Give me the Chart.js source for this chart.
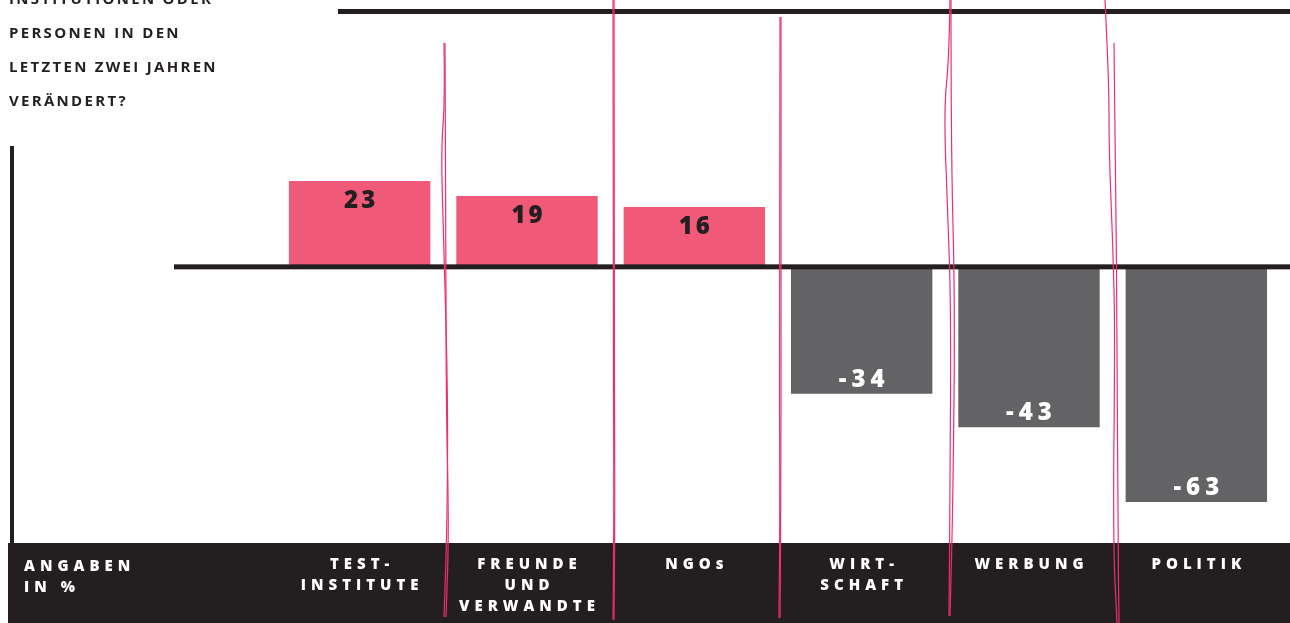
<!DOCTYPE html>
<html>
<head>
<meta charset="utf-8">
<script src="https://cdn.jsdelivr.net/npm/chart.js@4/dist/chart.umd.min.js"></script>
<style>
  html, body { margin: 0; padding: 0; background: #fff; }
  canvas { display: block; }
</style>
</head>
<body>
<canvas id="chart" width="1290" height="623"></canvas>
<script>
// Data
const categories = [
  ["TEST-", "INSTITUTE"],
  ["FREUNDE", "UND", "VERWANDTE"],
  ["NGOs"],
  ["WIRT-", "SCHAFT"],
  ["WERBUNG"],
  ["POLITIK"]
];
const values = [23, 19, 16, -34, -43, -63];
const titleLines = ["INSTITUTIONEN ODER", "PERSONEN IN DEN", "LETZTEN ZWEI JAHREN", "VERÄNDERT?"];
const unitLines = ["ANGABEN", "IN %"];

const dark = "#231f20";
const pink = "#f05a78";
const grey = "#636264";
const red = "#ee2f68";

// hand drawn red strokes (decoration)
const scribbles = [
  [[444,43],[445,100],[441,150],[444,250],[448,400],[447,530],[444,617]],
  [[445,43],[446,200],[446,400],[449,530],[446,617]],
  [[613,0],[613,300],[614,500],[613,620]],
  [[614,0],[614,300],[615,500],[614,620]],
  [[780,17],[779,300],[780,500],[779,618]],
  [[781,17],[781,300],[781,500],[780,618]],
  [[950,0],[949,60],[944,107],[947,200],[951,300],[950,500],[949,616]],
  [[951,0],[951,150],[955,300],[953,500],[950,616]],
  [[1105,0],[1109,80],[1109,150],[1113,250],[1115,330],[1113,540],[1117,623]],
  [[1114,43],[1116,200],[1117,330],[1118,540],[1119,623]]
];

function spacedText(ctx, text, x, y, spacing, align) {
  ctx.letterSpacing = spacing + "px";
  const w = ctx.measureText(text).width - spacing;
  let sx = x;
  if (align === "center") sx = x - w / 2;
  ctx.textAlign = "left";
  ctx.fillText(text, sx, y);
  ctx.letterSpacing = "0px";
}

const decor = {
  id: "decor",
  beforeDraw(chart) {
    const ctx = chart.ctx;
    ctx.save();
    ctx.fillStyle = dark;
    ctx.fillRect(8, 543, 1282, 80);
    ctx.restore();
  },
  afterDatasetsDraw(chart) {
    const ctx = chart.ctx;
    const y0 = chart.scales.y.getPixelForValue(0);
    ctx.save();
    ctx.fillStyle = dark;
    // top rule, left rule, zero line
    ctx.fillRect(338, 9, 952, 5);
    ctx.fillRect(10, 146, 4, 397);
    ctx.fillRect(174, y0 - 2.5, 1116, 5);

    // value labels
    const meta = chart.getDatasetMeta(0);
    ctx.textBaseline = "alphabetic";
    ctx.font = "800 24px 'Open Sans'";
    meta.data.forEach((bar, i) => {
      const v = values[i];
      if (v >= 0) {
        ctx.fillStyle = dark;
        spacedText(ctx, String(v), bar.x, bar.y + 27, 3, "center");
      } else {
        ctx.fillStyle = "#ffffff";
        spacedText(ctx, String(v), bar.x, bar.y - 7, 5, "center");
      }
    });

    // title text
    ctx.fillStyle = dark;
    ctx.font = "700 15px 'Open Sans'";
    titleLines.forEach((t, i) => spacedText(ctx, t, 9, 4 + i * 34, 2.3, "left"));

    // band labels
    ctx.fillStyle = "#ffffff";
    ctx.font = "800 15px 'Open Sans'";
    unitLines.forEach((t, i) => spacedText(ctx, t, 24, 571 + i * 21, 5, "left"));
    const xs = chart.scales.x;
    categories.forEach((lines, i) => {
      const cx = xs.getPixelForValue(i);
      lines.forEach((t, j) => spacedText(ctx, t, cx, 569 + j * 21, 5, "center"));
    });

    // red scribbles
    ctx.strokeStyle = red;
    ctx.lineWidth = 1.2;
    ctx.lineJoin = "round";
    scribbles.forEach(pts => {
      ctx.beginPath();
      ctx.moveTo(pts[0][0], pts[0][1]);
      for (let k = 1; k < pts.length - 1; k++) {
        const mx = (pts[k][0] + pts[k + 1][0]) / 2;
        const my = (pts[k][1] + pts[k + 1][1]) / 2;
        ctx.quadraticCurveTo(pts[k][0], pts[k][1], mx, my);
      }
      const last = pts[pts.length - 1];
      ctx.lineTo(last[0], last[1]);
      ctx.stroke();
    });
    ctx.restore();
  }
};

new Chart(document.getElementById("chart").getContext("2d"), {
  type: "bar",
  data: {
    labels: categories.map(c => c.join(" ")),
    datasets: [{
      data: values,
      backgroundColor: values.map(v => v >= 0 ? pink : grey),
      borderWidth: 0,
      barPercentage: 0.845,
      categoryPercentage: 1
    }]
  },
  options: {
    responsive: false,
    animation: false,
    layout: { padding: { top: 0, bottom: 80, left: 276, right: 10 } },
    scales: {
      x: { display: false },
      y: { display: false, min: -74, max: 71.5 }
    },
    plugins: {
      legend: { display: false },
      tooltip: { enabled: false }
    }
  },
  plugins: [decor]
});
</script>
</body>
</html>
